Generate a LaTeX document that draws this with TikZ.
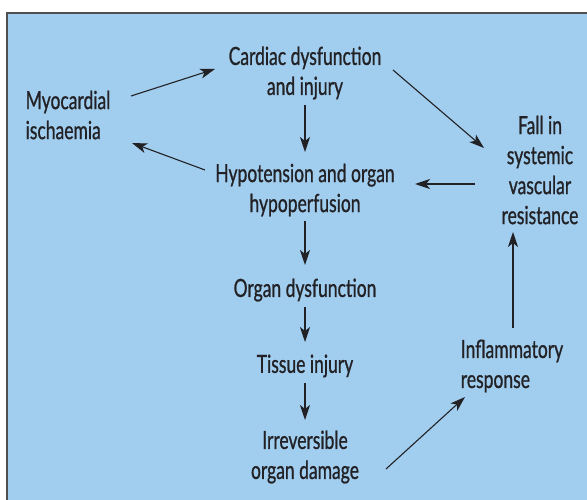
\documentclass[tikz,border=0pt]{standalone}
\usepackage{fontspec}
\setmainfont[FakeStretch=0.70,FakeBold=0.8]{Lato}
\usetikzlibrary{arrows.meta}
\definecolor{bgblue}{RGB}{161,205,238}
\definecolor{ink}{RGB}{34,34,38}
\definecolor{frame}{RGB}{80,80,80}
\tikzset{
  lbl/.style={font=\fontsize{25}{30}\selectfont, text=ink, align=center, inner sep=0pt},
  lbll/.style={lbl, align=left},
  arr/.style={draw=ink, line width=1.1pt, -{Stealth[length=15pt,width=10pt,inset=4pt]}}
}
\begin{document}
\begin{tikzpicture}[x=1pt,y=-1pt]
\useasboundingbox (0,0) rectangle (587,500);
\fill[white] (0,0) rectangle (587,500);
\fill[bgblue] (7,13) rectangle (600,520);
\draw[frame, line width=1.5pt] (7,520) -- (7,13) -- (600,13);

\node[lbl] (card) at (305,73) {Cardiac dysfunction\\and injury};
\node[lbll] (myo) at (68,115) {Myocardial\\ischaemia};
\node[lbl] (hypo) at (305,190) {Hypotension and organ\\hypoperfusion};
\node[lbl] (fall) at (540,170) {Fall in\\systemic\\vascular\\resistance};
\node[lbl] (organ) at (305,290) {Organ dysfunction};
\node[lbl] (tissue) at (305,366) {Tissue injury};
\node[lbl] (irr) at (305,457) {Irreversible\\organ damage};
\node[lbll] (infl) at (512,366) {Inflammatory\\response};

\draw[arr] ([shift={(63,-19)}]myo.center) -- ([shift={(-90,-4)}]card.center);
\draw[arr] ([shift={(88,-3)}]card.center) -- ([shift={(-56,-22)}]fall.center);
\draw[arr] ([shift={(0,32)}]card.center) -- ([shift={(0,-38)}]hypo.center);
\draw[arr] ([shift={(-65,14)}]fall.center) -- ([shift={(110,-6)}]hypo.center);
\draw[arr] ([shift={(-100,-20)}]hypo.center) -- ([shift={(64,28)}]myo.center);
\draw[arr] ([shift={(0,31)}]hypo.center) -- ([shift={(0,-25)}]organ.center);
\draw[arr] ([shift={(0,17)}]organ.center) -- ([shift={(0,-24)}]tissue.center);
\draw[arr] ([shift={(0,17)}]tissue.center) -- ([shift={(0,-37)}]irr.center);
\draw[arr] ([shift={(81,12)}]irr.center) -- ([shift={(-47,31)}]infl.center);
\draw[arr] ([shift={(1,-38)}]infl.center) -- ([shift={(-27,62)}]fall.center);
\end{tikzpicture}
\end{document}
